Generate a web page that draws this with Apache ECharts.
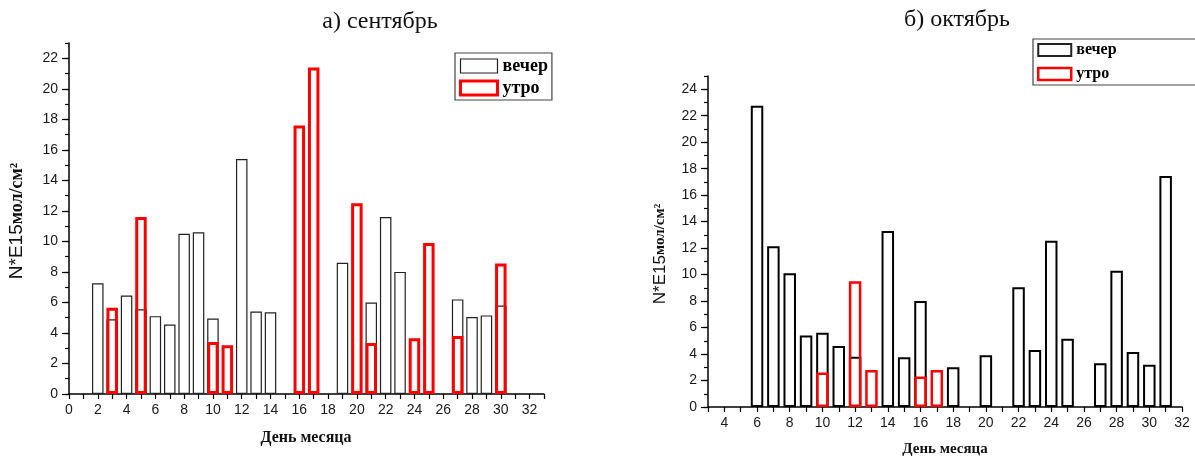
<!DOCTYPE html>
<html>
<head>
<meta charset="utf-8">
<script src="https://cdn.jsdelivr.net/npm/echarts@6/dist/echarts.min.js"></script>
<style>
    html, body { margin: 0; padding: 0; background: #fff; }
    #chart { width: 1195px; height: 457px; }
</style>
</head>
<body>
<div id="chart"></div>
<script>
// сентябрь
var sepEveningDays = [2, 3, 4, 5, 6, 7, 8, 9, 10, 12, 13, 14, 19, 21, 22, 23, 27, 28, 29, 30];
var sepEveningVals = [7.25, 4.9, 6.45, 5.55, 5.1, 4.55, 10.5, 10.6, 4.95, 15.4, 5.4, 5.35, 8.6, 6.0, 11.6, 8.0, 6.2, 5.05, 5.15, 5.8];
var sepMorningDays = [3, 5, 10, 11, 16, 17, 20, 21, 24, 25, 27, 30];
var sepMorningVals = [5.65, 11.6, 3.4, 3.2, 17.6, 21.4, 12.5, 3.35, 3.65, 9.9, 3.8, 8.55];
// октябрь
var octEveningDays = [6, 7, 8, 9, 10, 11, 12, 14, 15, 16, 18, 20, 22, 23, 24, 25, 27, 28, 29, 30, 31];
var octEveningVals = [22.75, 12.15, 10.1, 5.4, 5.6, 4.6, 3.8, 13.3, 3.75, 8.0, 3.0, 3.9, 9.05, 4.3, 12.55, 5.15, 3.3, 10.3, 4.15, 3.2, 17.45];
var octMorningDays = [10, 12, 13, 16, 17];
var octMorningVals = [2.6, 9.5, 2.8, 2.3, 2.8];

// подписи осей
var sepXTicks = [0, 2, 4, 6, 8, 10, 12, 14, 16, 18, 20, 22, 24, 26, 28, 30, 32];
var sepYTicks = [0, 2, 4, 6, 8, 10, 12, 14, 16, 18, 20, 22];
var octXTicks = [4, 6, 8, 10, 12, 14, 16, 18, 20, 22, 24, 26, 28, 30, 32];
var octYTicks = [0, 2, 4, 6, 8, 10, 12, 14, 16, 18, 20, 22, 24];

var sans = "Liberation Sans";
var serif = "Liberation Serif";

function pairs(days, vals) {
    return days.map(function (d, i) { return [d, vals[i]]; });
}

function xAxisOf(grid, min, max, ticks) {
    return {
        type: "value", gridIndex: grid, min: min, max: max, interval: 1,
        axisLine: { lineStyle: { color: "#000", width: 1.5 } },
        axisTick: { inside: false, length: 5, lineStyle: { color: "#000", width: 1.2 } },
        axisLabel: { customValues: ticks, margin: 9, color: "#1a1a1a", fontFamily: sans, fontSize: 14 },
        splitLine: { show: false }
    };
}

function yAxisOf(grid, max, ticks) {
    return {
        type: "value", gridIndex: grid, min: 0, max: max, interval: 1,
        axisLine: { show: true, lineStyle: { color: "#000", width: 1.5 } },
        axisTick: { customValues: ticks, length: 7, lineStyle: { color: "#000", width: 1.2 } },
        axisLabel: { customValues: ticks, margin: 11, color: "#1a1a1a", fontFamily: sans, fontSize: 14 },
        splitLine: { show: false }
    };
}

// мелкие засечки на каждом целом
function yMinorOf(grid, max) {
    return {
        type: "value", gridIndex: grid, min: 0, max: max, interval: 1, position: "left",
        axisLine: { show: false },
        axisTick: { show: true, length: 4, lineStyle: { color: "#000", width: 1.2 } },
        axisLabel: { show: false },
        splitLine: { show: false }
    };
}

function barSeries(name, x, y, data, color, border, width) {
    return {
        name: name, type: "bar", xAxisIndex: x, yAxisIndex: y,
        data: data, barWidth: width, barGap: "-100%",
        itemStyle: { color: "transparent", borderColor: color, borderWidth: border }
    };
}

function legendOf(left, top, size, w, h, gap, pad, blackBorder, redBorder) {
    return {
        left: left, top: top, orient: "vertical", icon: "rect",
        padding: pad, borderColor: "#444", borderWidth: 1.2,
        itemWidth: w, itemHeight: h, itemGap: gap,
        textStyle: { fontFamily: serif, fontWeight: "bold", fontSize: size, color: "#000", lineHeight: size - 3 },
        data: [
            { name: "вечер", itemStyle: { color: "transparent", borderColor: "#222", borderWidth: blackBorder } },
            { name: "утро", itemStyle: { color: "transparent", borderColor: "#ff0000", borderWidth: redBorder } }
        ]
    };
}

function yName(x, y, big, small) {
    return {
        type: "text", x: x, y: y, rotation: Math.PI / 2,
        style: {
            text: "{a|N*E15}{b|мол/см²}",
            align: "center", verticalAlign: "middle",
            rich: {
                a: { fontFamily: sans, fontSize: big, fill: "#111" },
                b: { fontFamily: serif, fontWeight: "bold", fontSize: small, fill: "#111" }
            }
        }
    };
}

function plainText(x, y, text, font, size, bold) {
    return {
        type: "text", x: x, y: y,
        style: {
            text: text, align: "center", verticalAlign: "middle",
            fontFamily: font, fontSize: size, fontWeight: bold ? "bold" : "normal", fill: "#111"
        }
    };
}

var chart = echarts.init(document.getElementById("chart"));
var option = {
    animation: false,
    graphic: [
        plainText(380, 22, "а) сентябрь", serif, 24, false),
        plainText(957, 20, "б) октябрь", serif, 24, false),
        yName(17, 221, 19, 18),
        yName(660, 254, 17, 15),
        plainText(306, 438, "День месяца", serif, 16, true),
        plainText(945, 449, "День месяца", serif, 15, true)
    ],
    legend: [
        legendOf(455, 53, 18, 37, 14, 4, [4, 4, 3, 4], 1.2, 3),
        legendOf(1033, 39, 16, 33, 12, 8, [3, 90, 3, 4], 2, 2.5)
    ],
    grid: [
        { left: 69, top: 43, width: 475, height: 351 },
        { left: 708, top: 76, width: 474, height: 331 }
    ],
    xAxis: [
        xAxisOf(0, 0, 33, sepXTicks),
        xAxisOf(1, 3, 32, octXTicks)
    ],
    yAxis: [
        yAxisOf(0, 23, sepYTicks),
        yMinorOf(0, 23),
        yAxisOf(1, 25, octYTicks),
        yMinorOf(1, 25)
    ],
    series: [
        barSeries("вечер", 0, 0, pairs(sepEveningDays, sepEveningVals), "#222", 1.2, 11.5),
        barSeries("утро", 0, 0, pairs(sepMorningDays, sepMorningVals), "#ff0000", 3, 11.5),
        barSeries("вечер", 1, 2, pairs(octEveningDays, octEveningVals), "#000", 2, 12.5),
        barSeries("утро", 1, 2, pairs(octMorningDays, octMorningVals), "#ff0000", 2.5, 12.5)
    ]
};
chart.setOption(option);
</script>
</body>
</html>
